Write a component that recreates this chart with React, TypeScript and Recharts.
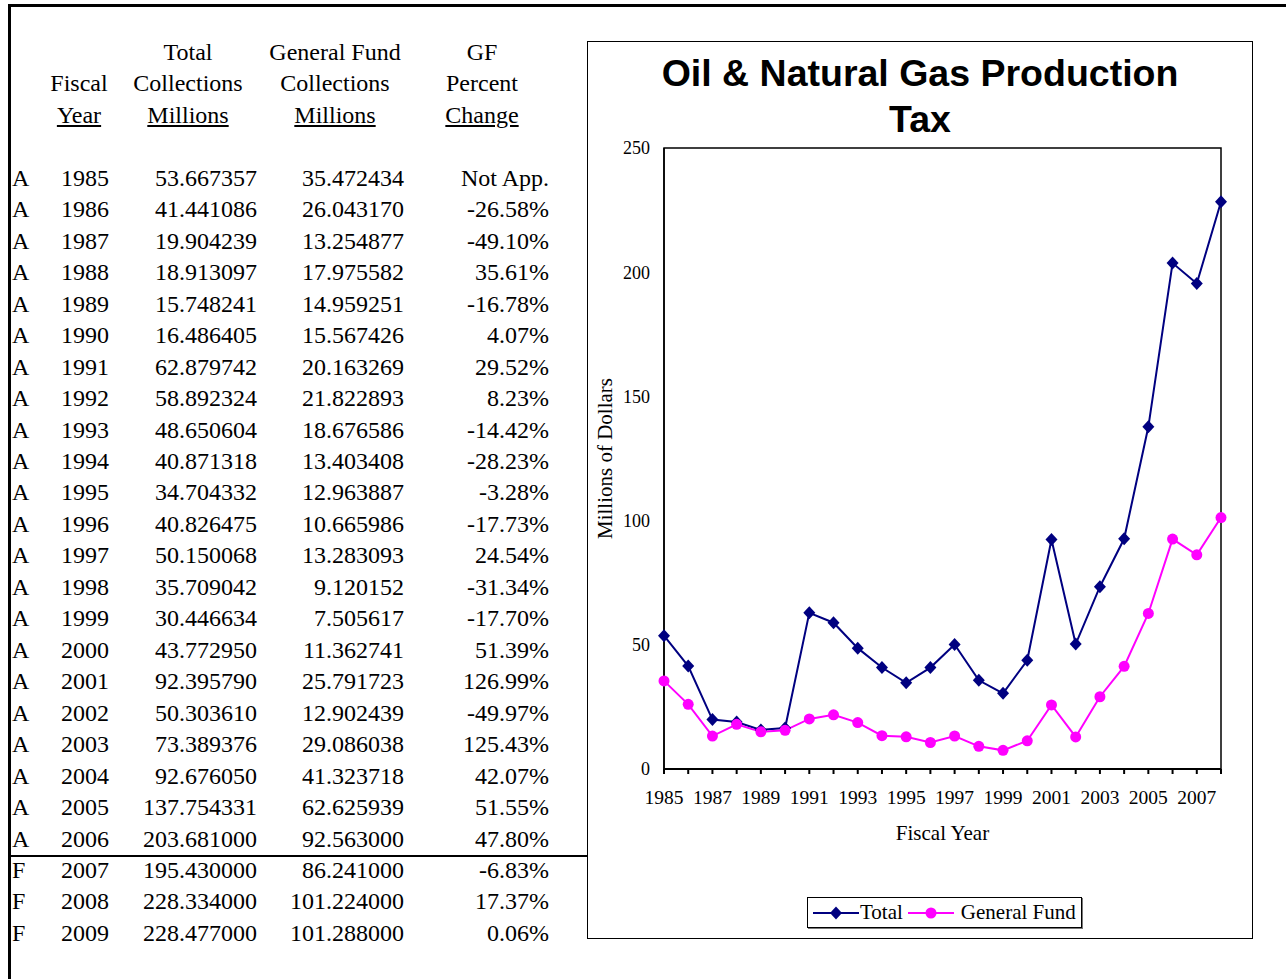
import { LineChart, Line, XAxis, YAxis, ReferenceArea, Label } from "recharts";

const years = [
  1985, 1986, 1987, 1988, 1989, 1990, 1991, 1992, 1993, 1994, 1995, 1996, 1997,
  1998, 1999, 2000, 2001, 2002, 2003, 2004, 2005, 2006, 2007, 2008, 2009,
];
const status = [
  "A", "A", "A", "A", "A", "A", "A", "A", "A", "A", "A", "A", "A",
  "A", "A", "A", "A", "A", "A", "A", "A", "A", "F", "F", "F",
];
const totalCollections = [
  53.667357, 41.441086, 19.904239, 18.913097, 15.748241, 16.486405, 62.879742,
  58.892324, 48.650604, 40.871318, 34.704332, 40.826475, 50.150068, 35.709042,
  30.446634, 43.77295, 92.39579, 50.30361, 73.389376, 92.67605, 137.754331,
  203.681, 195.43, 228.334, 228.477,
];
const gfCollections = [
  35.472434, 26.04317, 13.254877, 17.975582, 14.959251, 15.567426, 20.163269,
  21.822893, 18.676586, 13.403408, 12.963887, 10.665986, 13.283093, 9.120152,
  7.505617, 11.362741, 25.791723, 12.902439, 29.086038, 41.323718, 62.625939,
  92.563, 86.241, 101.224, 101.288,
];
const gfPercent = [
  "Not App.", "-26.58%", "-49.10%", "35.61%", "-16.78%", "4.07%", "29.52%",
  "8.23%", "-14.42%", "-28.23%", "-3.28%", "-17.73%", "24.54%", "-31.34%",
  "-17.70%", "51.39%", "126.99%", "-49.97%", "125.43%", "42.07%", "51.55%",
  "47.80%", "-6.83%", "17.37%", "0.06%",
];
const xTicks = [
  1985, 1986, 1987, 1988, 1989, 1990, 1991, 1992, 1993, 1994, 1995, 1996,
  1997, 1998, 1999, 2000, 2001, 2002, 2003, 2004, 2005, 2006, 2007, 2008,
];
const yTicks = [0, 50, 100, 150, 200, 250];

const LAST_CHART_YEAR = 2008;
const NAVY = "#000080";
const MAGENTA = "#FF00FF";
const SERIF = '"Liberation Serif", "Times New Roman", serif';
const SANS = '"Liberation Sans", Arial, sans-serif';

const chartData = years
  .map((year, i) => ({ year, total: totalCollections[i], gf: gfCollections[i] }))
  .filter((d) => d.year <= LAST_CHART_YEAR);

const ROW_H = 31.46;
const TABLE_TOP = 37;

function Diamond(props: any) {
  const { cx, cy, index } = props;
  if (cx == null || cy == null) return null;
  return (
    <polygon
      key={`d-${index}`}
      points={`${cx},${cy - 6.5} ${cx + 6},${cy} ${cx},${cy + 6.5} ${cx - 6},${cy}`}
      fill={NAVY}
    />
  );
}

function Dot(props: any) {
  const { cx, cy, index } = props;
  if (cx == null || cy == null) return null;
  return <circle key={`c-${index}`} cx={cx} cy={cy} r={5.5} fill={MAGENTA} />;
}

function YearTick(props: any) {
  const { x, y, payload } = props;
  if (payload.value % 2 === 0) return null;
  return (
    <text x={x} y={y} dy="0.71em" textAnchor="middle" fontSize={19.5} fontFamily={SERIF} fill="#000">
      {payload.value}
    </text>
  );
}

function Cell({ text, right, width = 160 }: { text: string; right: number; width?: number }) {
  return (
    <span style={{ position: "absolute", left: right - width, width, textAlign: "right" }}>{text}</span>
  );
}

function Head({ text, center, underline }: { text: string; center: number; underline?: boolean }) {
  return (
    <span
      style={{
        position: "absolute",
        left: center - 90,
        width: 180,
        textAlign: "center",
        textDecoration: underline ? "underline" : "none",
      }}
    >
      {text}
    </span>
  );
}

function Row({ index, children }: { index: number; children: any }) {
  return (
    <div
      style={{
        position: "absolute",
        left: 0,
        top: TABLE_TOP + index * ROW_H,
        height: ROW_H,
        lineHeight: `${ROW_H}px`,
        width: 590,
        whiteSpace: "nowrap",
      }}
    >
      {children}
    </div>
  );
}

function DataTable() {
  return (
    <div style={{ position: "absolute", left: 0, top: 0, fontFamily: SERIF, fontSize: 24, color: "#000" }}>
      <Row index={0}>
        <Head text="Total" center={188} />
        <Head text="General Fund" center={335} />
        <Head text="GF" center={482} />
      </Row>
      <Row index={1}>
        <Head text="Fiscal" center={79} />
        <Head text="Collections" center={188} />
        <Head text="Collections" center={335} />
        <Head text="Percent" center={482} />
      </Row>
      <Row index={2}>
        <Head text="Year" center={79} underline />
        <Head text="Millions" center={188} underline />
        <Head text="Millions" center={335} underline />
        <Head text="Change" center={482} underline />
      </Row>
      {years.map((year, i) => (
        <Row key={year} index={4 + i}>
          <span style={{ position: "absolute", left: 12 }}>{status[i]}</span>
          <Cell text={String(year)} right={109} width={80} />
          <Cell text={totalCollections[i].toFixed(6)} right={257} />
          <Cell text={gfCollections[i].toFixed(6)} right={404} />
          <Cell text={gfPercent[i]} right={549} />
        </Row>
      ))}
      <div style={{ position: "absolute", left: 8, top: 855, width: 579, height: 2, background: "#000" }} />
    </div>
  );
}

function LegendBox() {
  return (
    <div
      style={{
        position: "absolute",
        left: 219,
        top: 855,
        width: 275,
        height: 31,
        boxSizing: "border-box",
        border: "1px solid #000",
        boxShadow: "1px 1px 0 #777",
        background: "#fff",
        fontFamily: SERIF,
        fontSize: 21,
        display: "flex",
        alignItems: "center",
        paddingLeft: 5,
        whiteSpace: "nowrap",
      }}
    >
      <svg width={46} height={16} style={{ marginRight: 1 }}>
        <line x1={0} y1={8} x2={46} y2={8} stroke={NAVY} strokeWidth={2} />
        <polygon points="23,1.5 29,8 23,14.5 17,8" fill={NAVY} />
      </svg>
      <span style={{ marginRight: 5 }}>Total</span>
      <svg width={46} height={16} style={{ marginRight: 7 }}>
        <line x1={0} y1={8} x2={46} y2={8} stroke={MAGENTA} strokeWidth={2} />
        <circle cx={23} cy={8} r={5.5} fill={MAGENTA} />
      </svg>
      <span>General Fund</span>
    </div>
  );
}

function ProductionChart() {
  return (
    <div
      style={{
        position: "absolute",
        left: 587,
        top: 41,
        width: 666,
        height: 898,
        boxSizing: "border-box",
        border: "1px solid #000",
        background: "#fff",
      }}
    >
      <div
        style={{
          position: "absolute",
          left: 0,
          top: 8,
          width: 664,
          textAlign: "center",
          fontFamily: SANS,
          fontWeight: "bold",
          fontSize: 37.5,
          lineHeight: "46px",
        }}
      >
        Oil &amp; Natural Gas Production
        <br />
        Tax
      </div>
      <LineChart
        width={664}
        height={896}
        data={chartData}
        margin={{ top: 106, right: 31, left: 16, bottom: 129 }}
      >
        <XAxis
          dataKey="year"
          type="number"
          domain={[1985, LAST_CHART_YEAR]}
          ticks={xTicks}
          interval={0}
          height={40}
          tick={<YearTick />}
          tickSize={5}
          tickMargin={16}
          stroke="#000"
          strokeWidth={2}
        >
          <Label
            content={({ viewBox }: any) => (
              <text
                x={viewBox.x + viewBox.width / 2}
                y={viewBox.y + 64}
                textAnchor="middle"
                dominantBaseline="central"
                fontSize={21}
                fontFamily={SERIF}
                fill="#000"
              >
                Fiscal Year
              </text>
            )}
          />
        </XAxis>
        <YAxis
          type="number"
          domain={[0, 250]}
          ticks={yTicks}
          width={60}
          tickLine={false}
          tickSize={6}
          tickMargin={8}
          stroke="#000"
          strokeWidth={1.5}
          tick={{ fontSize: 18, fontFamily: SERIF, fill: "#000" }}
        >
          <Label
            content={({ viewBox }: any) => {
              const x = viewBox.x + 1;
              const y = viewBox.y + viewBox.height / 2;
              return (
                <text
                  x={x}
                  y={y}
                  transform={`rotate(-90, ${x}, ${y})`}
                  textAnchor="middle"
                  dominantBaseline="central"
                  fontSize={21}
                  fontFamily={SERIF}
                  fill="#000"
                >
                  Millions of Dollars
                </text>
              );
            }}
          />
        </YAxis>
        <ReferenceArea
          x1={1985}
          x2={LAST_CHART_YEAR}
          y1={0}
          y2={250}
          fill="none"
          stroke="#000"
          strokeWidth={1.5}
          ifOverflow="visible"
        />
        <Line
          dataKey="total"
          name="Total"
          stroke={NAVY}
          strokeWidth={2}
          dot={Diamond}
          activeDot={false}
          isAnimationActive={false}
        />
        <Line
          dataKey="gf"
          name="General Fund"
          stroke={MAGENTA}
          strokeWidth={2}
          dot={Dot}
          activeDot={false}
          isAnimationActive={false}
        />
      </LineChart>
      <LegendBox />
    </div>
  );
}

export default function App() {
  return (
    <div style={{ position: "absolute", left: 0, top: 0, width: 1286, height: 979, background: "#fff", overflow: "hidden" }}>
      <div style={{ position: "absolute", left: 8, top: 4, width: 1278, height: 3, background: "#000" }} />
      <div style={{ position: "absolute", left: 8, top: 4, width: 3, height: 975, background: "#000" }} />
      <DataTable />
      <ProductionChart />
    </div>
  );
}
